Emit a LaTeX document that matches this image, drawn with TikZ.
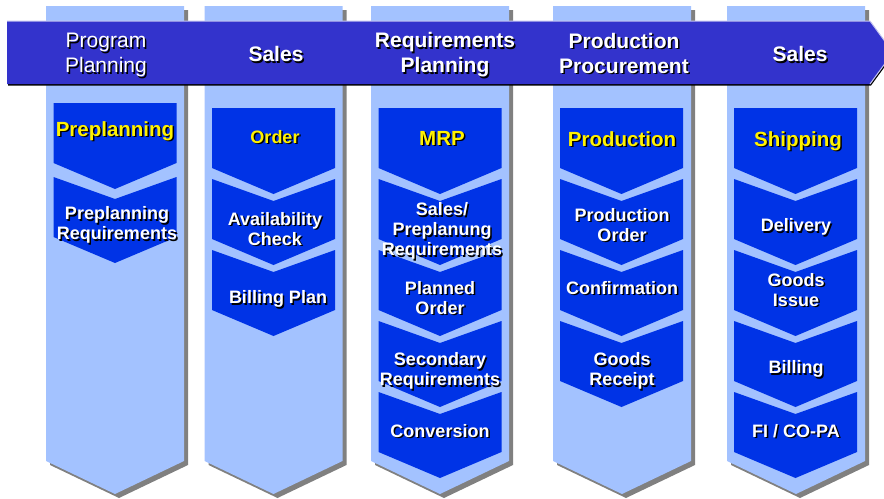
\documentclass[tikz,border=0pt]{standalone}
\usepackage{fontspec}
\setmainfont{Liberation Sans}
\usetikzlibrary{shapes}
\definecolor{lanefill}{RGB}{163,194,255}
\definecolor{chevfill}{RGB}{0,51,230}
\definecolor{bandfill}{RGB}{51,51,204}
\definecolor{shadegray}{RGB}{128,128,128}
% lane with pointed foot, #1 = centre x
\newcommand{\lane}[1]{%
  \fill[shadegray,shift={(#1bp+4bp,-4bp)}] (-69bp,-6bp) -- (69bp,-6bp) -- (69bp,-461bp) -- (0bp,-494bp) -- (-69bp,-461bp) -- cycle;
  \fill[lanefill,shift={(#1bp,0bp)}] (-69bp,-6bp) -- (69bp,-6bp) -- (69bp,-461bp) -- (0bp,-494bp) -- (-69bp,-461bp) -- cycle;}
% first chevron (flat top) and following chevrons (notched top), #1 = x, #2 = top y
\newcommand{\chevtop}[2]{%
  \fill[chevfill,shift={(#1bp,-#2bp)}] (-61.5bp,0bp) -- (61.5bp,0bp) -- (61.5bp,-60bp) -- (0bp,-86bp) -- (-61.5bp,-60bp) -- cycle;}
\newcommand{\chevnext}[2]{%
  \fill[chevfill,shift={(#1bp,-#2bp)}] (-61.5bp,0bp) -- (0bp,-22bp) -- (61.5bp,0bp) -- (61.5bp,-60bp) -- (0bp,-86bp) -- (-61.5bp,-60bp) -- cycle;}
% text with a black drop shadow
\newcommand{\shnode}[5]{%
  \node (#1s) at (#2bp+1.5bp,-#3bp-1.5bp)[#4,text=black] {#5};
  \node (#1) at (#2bp,-#3bp)[#4] {#5};}
\tikzset{
  bandtxt/.style={text=white,align=center,inner sep=0pt,font=\fontsize{21bp}{25bp}\selectfont\bfseries},
  bandthin/.style={text=white,align=center,inner sep=0pt,font=\fontsize{21bp}{25bp}\selectfont},
  headtxt/.style={text=yellow,align=center,inner sep=0pt,font=\fontsize{20.5bp}{24bp}\selectfont\bfseries},
  boxtxt/.style={text=white,align=center,inner sep=0pt,font=\fontsize{18bp}{20bp}\selectfont\bfseries},
}

\begin{document}
\begin{tikzpicture}
\useasboundingbox (0bp,0bp) rectangle (884bp,-499bp);
% lanes
\lane{115}
\lane{273.5}
\lane{440}
\lane{622}
\lane{796}
% banner
\fill[black] (8bp,-22.5bp) -- (871bp,-22.5bp) -- (894bp,-54bp) -- (871bp,-85.5bp) -- (8bp,-85.5bp) -- cycle;
\fill[bandfill] (7bp,-21bp) -- (870bp,-21bp) -- (893bp,-52.5bp) -- (870bp,-84bp) -- (7bp,-84bp) -- cycle;
\draw[white!70!bandfill,line width=1bp] (7bp,-21bp) -- (870bp,-21bp) -- (893bp,-52.5bp) -- (870bp,-84bp);
\shnode{hPlan}{106}{55}{bandthin}{Program\\Planning}
\shnode{hSales}{276}{54}{bandtxt}{Sales}
\shnode{hReq}{445}{55}{bandtxt}{Requirements\\Planning}
\shnode{hProc}{624}{53}{bandtxt}{Production\\Procurement}
\shnode{hShip}{800}{54}{bandtxt}{Sales}
% program planning
\chevtop{115}{103}
\chevnext{115}{177}
\shnode{pPre}{115}{131}{headtxt}{Preplanning}
\shnode{pReq}{117}{225}{boxtxt}{Preplanning\\Requirements}
% sales
\chevtop{273.5}{108}
\chevnext{273.5}{179}
\chevnext{273.5}{250}
\shnode{sOrd}{275}{137}{headtxt,font=\fontsize{18bp}{20bp}\selectfont\bfseries}{Order}
\shnode{sAvail}{275}{229}{boxtxt}{Availability\\Check}
\shnode{sBill}{278}{299}{boxtxt}{Billing Plan}
% requirements planning
\chevtop{440}{108}
\chevnext{440}{179}
\chevnext{440}{250}
\chevnext{440}{321}
\chevnext{440}{392}
\shnode{rMRP}{442}{138}{headtxt}{MRP}
\shnode{rSales}{442}{231}{boxtxt}{Sales/\\Preplanung\\Requirements}
\shnode{rPlan}{440}{298}{boxtxt}{Planned\\Order}
\shnode{rSec}{440}{371}{boxtxt}{Secondary\\Requirements}
\shnode{rConv}{440}{431}{boxtxt}{Conversion}
% production procurement
\chevtop{621.5}{108}
\chevnext{621.5}{179}
\chevnext{621.5}{250}
\chevnext{621.5}{321}
\shnode{oProd}{622}{139}{headtxt}{Production}
\shnode{oOrd}{622}{225}{boxtxt}{Production\\Order}
\shnode{oConf}{622}{288}{boxtxt}{Confirmation}
\shnode{oGR}{622}{371}{boxtxt}{Goods\\Receipt}
% shipping
\chevtop{795.5}{108}
\chevnext{795.5}{179}
\chevnext{795.5}{250}
\chevnext{795.5}{321}
\chevnext{795.5}{392}
\shnode{dShip}{798}{141}{headtxt}{Shipping}
\shnode{dDel}{796}{227}{boxtxt}{Delivery}
\shnode{dGI}{796}{290}{boxtxt}{Goods\\Issue}
\shnode{dBill}{796}{369}{boxtxt}{Billing}
\shnode{dFI}{796}{431}{boxtxt}{FI / CO-PA}
\end{tikzpicture}
\end{document}
